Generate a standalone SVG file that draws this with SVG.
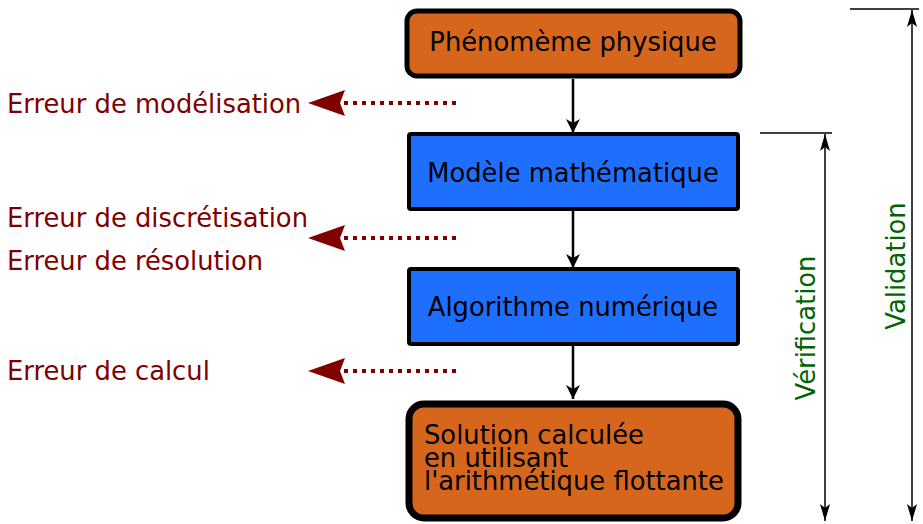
<svg xmlns="http://www.w3.org/2000/svg" width="923" height="524" viewBox="0 0 923 524">
<style>
text{font-family:"DejaVu Sans",sans-serif;font-size:25.8px}
.box{stroke:#000}
.or{fill:#d5661b}
.bl{fill:#1f6fff}
.err{fill:#800000}
.grn{fill:#006400}
.flow{stroke:#000;stroke-width:2.5;fill:none}
.dot{stroke:#800000;stroke-width:4;stroke-dasharray:4 5;fill:none}
.dim{stroke:#000;stroke-width:1.5;fill:none}
</style>
<defs>
<marker id="blk" viewBox="0 0 14 14" refX="14" refY="7" markerWidth="14" markerHeight="14" markerUnits="userSpaceOnUse" orient="auto">
<path d="M0,0 L14,7 L0,14 L4,7 Z" fill="#000"/>
</marker>
<marker id="thin" viewBox="0 0 17 10" refX="17" refY="5" markerWidth="17" markerHeight="10" markerUnits="userSpaceOnUse" orient="auto-start-reverse">
<path d="M0,0 L17,5 L0,10 L4,5 Z" fill="#000"/>
</marker>
</defs>
<g id="connectors">
<line class="flow" x1="573" y1="79" x2="573" y2="133" marker-end="url(#blk)"/>
<line class="flow" x1="573" y1="211" x2="573" y2="268" marker-end="url(#blk)"/>
<line class="flow" x1="573" y1="346" x2="573" y2="399" marker-end="url(#blk)"/>
<line class="dot" x1="456" y1="103" x2="342" y2="103"/>
<path d="M345,90 L308,103 L345,116 L340,103 Z" fill="#800000"/>
<line class="dot" x1="456" y1="238" x2="342" y2="238"/>
<path d="M345,225 L308,238 L345,251 L340,238 Z" fill="#800000"/>
<line class="dot" x1="456" y1="371" x2="342" y2="371"/>
<path d="M345,358 L308,371 L345,384 L340,371 Z" fill="#800000"/>
<line class="dim" x1="850" y1="9" x2="919" y2="9"/>
<line class="dim" x1="912" y1="10" x2="912" y2="521" marker-start="url(#thin)" marker-end="url(#thin)"/>
<line class="dim" x1="760" y1="133" x2="832" y2="133"/>
<line class="dim" x1="825" y1="134" x2="825" y2="521" marker-start="url(#thin)" marker-end="url(#thin)"/>
</g>
<g id="phenomene">
<rect class="box or" x="407" y="11" width="333" height="65" rx="10" stroke-width="5"/>
<text x="573" y="51" text-anchor="middle">Phénomème physique</text>
</g>
<g id="modele">
<rect class="box bl" x="409" y="134" width="329" height="75" rx="2" stroke-width="4"/>
<text x="573" y="182" text-anchor="middle">Modèle mathématique</text>
</g>
<g id="algorithme">
<rect class="box bl" x="409" y="269" width="329" height="75" rx="2" stroke-width="4"/>
<text x="573" y="316" text-anchor="middle">Algorithme numérique</text>
</g>
<g id="solution">
<rect class="box or" x="409" y="404" width="329" height="114" rx="15" stroke-width="7"/>
<text x="424" y="444">Solution calculée</text>
<text x="424" y="467">en utilisant</text>
<text x="424" y="490">l'arithmétique flottante</text>
</g>
<g id="labels">
<text class="err" x="7" y="113">Erreur de modélisation</text>
<text class="err" x="7" y="227">Erreur de discrétisation</text>
<text class="err" x="7" y="270">Erreur de résolution</text>
<text class="err" x="7" y="380">Erreur de calcul</text>
<text class="grn" transform="translate(815,328) rotate(-90)" text-anchor="middle">Vérification</text>
<text class="grn" transform="translate(905,266) rotate(-90)" text-anchor="middle">Validation</text>
</g>
</svg>
